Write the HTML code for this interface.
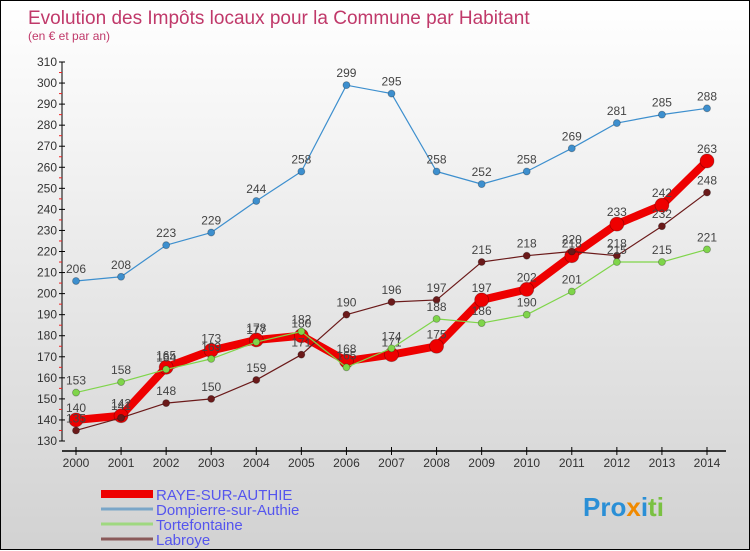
<!DOCTYPE html>
<html><head><meta charset="utf-8"><style>
body{margin:0}
#c{width:748px;height:548px;border:1px solid #000;background:linear-gradient(#fff,#d2d2d2);position:relative;font-family:"Liberation Sans",sans-serif}
svg{position:absolute;left:0;top:0}
</style></head><body>
<div id="c">
<svg id="s" width="750" height="550">
<text x="27" y="23" font-size="19" fill="#c0396a">Evolution des Impôts locaux pour la Commune par Habitant</text>
<text x="27" y="39" font-size="12" fill="#c0396a">(en € et par an)</text>
</svg>
</div>
<script>
const years=[2000,2001,2002,2003,2004,2005,2006,2007,2008,2009,2010,2011,2012,2013,2014];
const yTicks=[130,140,150,160,170,180,190,200,210,220,230,240,250,260,270,280,290,300,310];
const raye=[140,142,165,173,178,180,168,171,175,197,202,218,233,242,263];
const dompierre=[206,208,223,229,244,258,299,295,258,252,258,269,281,285,288];
const tortefontaine=[153,158,164,169,177,182,165,174,188,186,190,201,215,215,221];
const labroye=[135,141,148,150,159,171,190,196,197,215,218,220,218,232,248];
const svg=document.getElementById('s');const NS='http://www.w3.org/2000/svg';
function X(i){return 75+i*(706-75)/14;}
function Y(v){return 440-(v-130)*(440-61)/180;}
function mk(t,a,p){const e=document.createElementNS(NS,t);for(const k in a)e.setAttribute(k,a[k]);(p||svg).appendChild(e);return e;}
// axes
let ya=mk('line',{x1:61,y1:61,x2:61,y2:440,stroke:'#000'});


let xa=mk('line',{x1:61,y1:450,x2:725,y2:450,stroke:'#000','stroke-width':1.5});


yTicks.forEach(v=>{
 mk('line',{x1:58,y1:Y(v),x2:64,y2:Y(v),stroke:'#000'});
 if(v<310)mk('line',{x1:58,y1:Y(v+5),x2:61,y2:Y(v+5),stroke:'#e22'});
 const t=mk('text',{x:56,y:Y(v)+4,'font-size':12,'text-anchor':'end',fill:'#333'});t.textContent=v;
 
 
});
years.forEach((y,i)=>{
 mk('line',{x1:X(i),y1:446,x2:X(i),y2:454,stroke:'#000'});
 const t=mk('text',{x:X(i),y:466,'font-size':12,'text-anchor':'middle',fill:'#333'});t.textContent=y;
 
 
});
function series(data,color,w,r,name){
 const g=mk('g',{});
 
 
 mk('polyline',{points:data.map((v,i)=>X(i)+','+Y(v)).join(' '),fill:'none',stroke:color,'stroke-width':w,'stroke-linejoin':'round'},g);
 data.forEach((v,i)=>{
  const c=mk('circle',{cx:X(i),cy:Y(v),r:r,fill:color,stroke:'rgba(0,0,0,0.3)','stroke-width':0.8},g);
  
  
  const t=mk('text',{x:X(i),y:Y(v)-8,'font-size':12,'text-anchor':'middle',fill:'#444'},g);t.textContent=v;
 });
}
series(dompierre,'#3d8fce',1.2,3.5,'dompierre');
series(raye,'#ee0000',8,7,'raye');
series(labroye,'#6b1a1a',1.2,3.5,'labroye');
series(tortefontaine,'#7fd54a',1.2,3.5,'tortefontaine');
const leg=[['RAYE-SUR-AUTHIE','#ee0000',8],['Dompierre-sur-Authie','#7aa6c8',3],['Tortefontaine','#9fd880',3],['Labroye','#8a5a5a',3]];
leg.forEach((l,i)=>{
 const y=493+i*15;
 const g=mk('g',{});
 
 
 mk('line',{x1:100,y1:y,x2:152,y2:y,stroke:l[1],'stroke-width':l[2]},g);
 const t=mk('text',{x:155,y:y+6,'font-size':15,fill:'#5555ee'},g);t.textContent=l[0];
});
const lg=mk('text',{x:582,y:515,'font-size':26,'font-weight':'bold',fill:'#2a8fd6'});
lg.innerHTML='Pro<tspan fill="#f08a00">x</tspan>i<tspan fill="#7ac142">ti</tspan>';


</script>
</body></html>
